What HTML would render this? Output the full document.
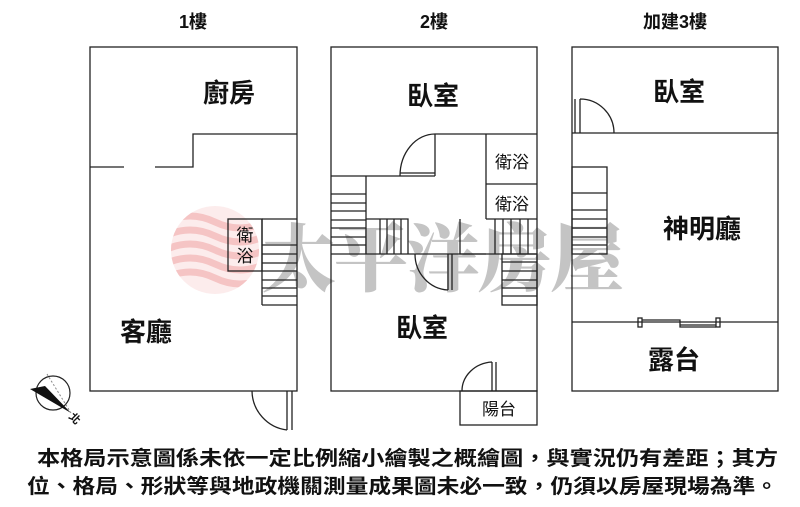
<!DOCTYPE html>
<html><head><meta charset="utf-8"><style>
html,body{margin:0;padding:0;background:#fff;width:800px;height:507px;overflow:hidden}
svg{display:block}
text{font-family:"Liberation Sans","Noto Sans CJK TC",sans-serif;fill:#111}
</style></head><body>
<svg width="800" height="507" viewBox="0 0 800 507" xmlns="http://www.w3.org/2000/svg">
<defs><clipPath id="cc"><circle cx="215" cy="250" r="44"/></clipPath></defs>
<g clip-path="url(#cc)" fill="none" stroke="#f2b3b3" stroke-width="7" opacity="0.8">
<path d="M165 222 q25 -12 50 0 t50 0"/><path d="M165 236 q25 -12 50 0 t50 0"/><path d="M165 250 q25 -12 50 0 t50 0"/><path d="M165 264 q25 -12 50 0 t50 0"/><path d="M165 278 q25 -12 50 0 t50 0"/>
</g>
<circle cx="215" cy="250" r="44" fill="#f6c9c9" opacity="0.35"/>
<text x="262" y="285" font-size="74" font-weight="900" style="font-family:'Noto Serif CJK SC',serif;fill:#c4c4c4" textLength="362">太平洋房屋</text>

<g fill="none" stroke="#222" stroke-width="1.3">
<rect x="90" y="47" width="207" height="344"/>
<path d="M90 167H124M155 167H193V134H297"/>
<rect x="228" y="219" width="34" height="52"/>
<path d="M262 219H297M262 245H297M262 254H297M262 263H297M262 271H297M262 280H297M262 288H297M262 296H297M262 305H297M262 219V305"/>
<path d="M292 391V430M287 391V430M252 391A40 40 0 0 0 287 430"/>
<rect x="331" y="47" width="206" height="344"/>
<path d="M435 134H537M435 134V176M331 176H435M366 176V254M331 254H537"/>
<path d="M400 176A35 42 0 0 1 435 134M400 173H435"/>
<path d="M486 134V219M486 184H537M486 219H537M460 219V254H486M366 219H408V254"/>
<path d="M331 194H366M331 203H366M331 211H366M331 220H366M331 228H366M331 237H366M331 245H366"/>
<path d="M380 219V254M387 219V254M394 219V254M401 219V254"/>
<path d="M495 219V254M503 219V254M511 219V254M520 219V254M528 219V254"/>
<rect x="502" y="254" width="35" height="51"/>
<path d="M502 262H537M502 271H537M502 280H537M502 288H537M502 296H537"/>
<path d="M452 254V290M448 254V290M415 254A35 36 0 0 0 448 290"/>
<rect x="460" y="391" width="77" height="34"/>
<path d="M492 362V391M496 362V391M462 391A32 29 0 0 1 492 362"/>
<rect x="572" y="47" width="206" height="344"/>
<path d="M572 133H778M572 322H778"/>
<path d="M575 99V133M580 99V133M580 99A34 34 0 0 1 614 133"/>
<rect x="572" y="167" width="35" height="87"/>
<path d="M572 193H607M572 210H607M572 219H607M572 228H607M572 237H607M572 245H607"/>
<rect x="638" y="318" width="4" height="9"/><rect x="716" y="318" width="4" height="9"/>
<path d="M642 320H680V325H716M680 322V327H716"/>
</g>
<circle cx="53" cy="393" r="17" fill="none" stroke="#222" stroke-width="1.2"/>
<path d="M30 389L45 386L71 413Z" fill="#111"/>
<path d="M47 374L71 413" stroke="#888" stroke-dasharray="2 2" stroke-width="1"/>
<text x="70" y="423" font-size="11" transform="rotate(45 76 418)" font-weight="bold">北</text>
<g font-size="18" text-anchor="middle" font-weight="bold">
<text x="193" y="28">1樓</text><text x="434" y="28">2樓</text><text x="675" y="28">加建3樓</text>
</g>
<g font-size="26" text-anchor="middle" font-weight="bold">
<text x="229" y="102">廚房</text><text x="146" y="341">客廳</text>
<text x="433" y="105">臥室</text><text x="422" y="337">臥室</text>
<text x="679" y="101">臥室</text><text x="702" y="238">神明廳</text><text x="674" y="369">露台</text>
</g>
<g font-size="17" text-anchor="middle">
<text x="245" y="241">衛</text><text x="245" y="262">浴</text>
<text x="512" y="168">衛浴</text><text x="512" y="210">衛浴</text>
<text x="499" y="415">陽台</text>
</g>
<g font-weight="bold">
<text x="37" y="465" font-size="20" textLength="741" lengthAdjust="spacingAndGlyphs">本格局示意圖係未依一定比例縮小繪製之概繪圖，與實況仍有差距；其方</text>
<text x="27" y="493" font-size="20" textLength="751" lengthAdjust="spacingAndGlyphs">位、格局、形狀等與地政機關測量成果圖未必一致，仍須以房屋現場為準。</text>
</g>
</svg>
</body></html>
